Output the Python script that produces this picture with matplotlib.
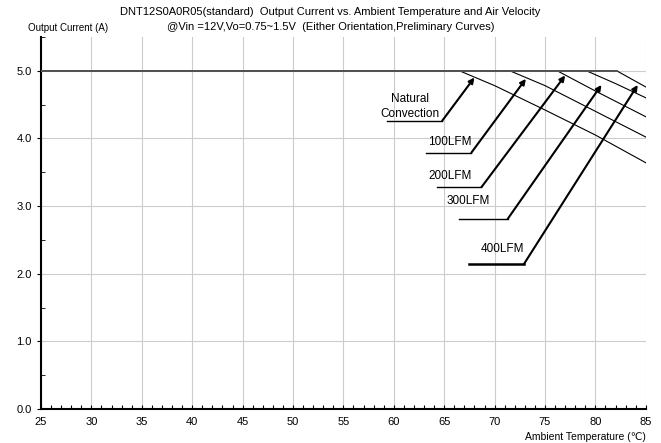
import numpy as np
import matplotlib
matplotlib.use("Agg")
import matplotlib.pyplot as plt
from matplotlib.ticker import MultipleLocator

plt.rcParams['font.family'] = ['Liberation Sans', 'DejaVu Sans']

# derating curves (ambient temp in C, output current in A)
nc_t = [25, 66.5, 70, 75, 80, 85]
nc_i = [5.0, 5.0, 4.78, 4.42, 4.05, 3.64]
lfm100_t = [25, 71.5, 75, 80, 85]
lfm100_i = [5.0, 5.0, 4.78, 4.40, 4.02]
lfm200_t = [25, 76.2, 80, 85]
lfm200_i = [5.0, 5.0, 4.70, 4.32]
lfm300_t = [25, 79.1, 82, 85]
lfm300_i = [5.0, 5.0, 4.81, 4.60]
lfm400_t = [25, 82.1, 85]
lfm400_i = [5.0, 5.0, 4.76]

curves = [(nc_t, nc_i), (lfm100_t, lfm100_i), (lfm200_t, lfm200_i),
          (lfm300_t, lfm300_i), (lfm400_t, lfm400_i)]

# curve labels: text, text pos, leader start/end, arrow tip
labels = ["Natural\nConvection", "100LFM", "200LFM", "300LFM", "400LFM"]
text_xy = [(61.6, 4.47), (65.6, 3.95), (65.6, 3.45), (67.4, 3.08), (70.8, 2.37)]
leader_y = [4.26, 3.79, 3.28, 2.81, 2.14]
leader_x0 = [59.3, 63.2, 64.3, 66.5, 67.5]
leader_x1 = [64.8, 67.7, 68.7, 71.3, 72.9]
tips = [(68.0, 4.90), (73.1, 4.88), (77.0, 4.93), (80.6, 4.79), (84.2, 4.79)]
leader_lw = [1.0, 1.0, 1.0, 1.0, 1.8]

fig = plt.figure(figsize=(6.61, 4.43), dpi=100)
ax = fig.add_axes([0.062, 0.0767, 0.915, 0.84])

for t, i in curves:
    ax.plot(t, i, color='black', lw=0.8, zorder=3)
ax.plot([25, 82.1], [5.0, 5.0], color='#555555', lw=1.4, zorder=4)

for k, lab in enumerate(labels):
    ax.text(text_xy[k][0], text_xy[k][1], lab, ha='center', va='center',
            fontsize=8.5, linespacing=1.25)
    ax.plot([leader_x0[k], leader_x1[k]], [leader_y[k], leader_y[k]],
            color='black', lw=leader_lw[k], zorder=5)
    ax.annotate('', xy=tips[k], xytext=(leader_x1[k], leader_y[k]),
                arrowprops=dict(arrowstyle='-|>', color='black', lw=1.5,
                                mutation_scale=8, shrinkA=0, shrinkB=0), zorder=5)

ax.set_xlim(25, 85)
ax.set_ylim(0, 5.5)
ax.xaxis.set_major_locator(MultipleLocator(5))
ax.xaxis.set_minor_locator(MultipleLocator(1))
ax.yaxis.set_major_locator(MultipleLocator(1))
ax.yaxis.set_minor_locator(MultipleLocator(0.5))
ax.set_yticks([0, 1, 2, 3, 4, 5])
ax.set_yticklabels(['0.0', '1.0', '2.0', '3.0', '4.0', '5.0'])

ax.grid(True, which='major', color='#cccccc', lw=0.8)
ax.set_axisbelow(True)
for s in ['top', 'right']:
    ax.spines[s].set_visible(False)
for s in ['left', 'bottom']:
    ax.spines[s].set_linewidth(1.5)
    ax.spines[s].set_color('black')

ax.tick_params(axis='x', which='both', direction='in', length=3, width=0.8,
               labelsize=8, pad=6)
ax.tick_params(axis='y', which='major', direction='out', length=3, labelsize=8)
ax.tick_params(axis='y', which='minor', direction='in', length=3)

fig.text(0.5, 0.972, "DNT12S0A0R05(standard)  Output Current vs. Ambient Temperature and Air Velocity",
         ha='center', va='center', fontsize=8)
fig.text(0.5, 0.940, "@Vin =12V,Vo=0.75~1.5V  (Either Orientation,Preliminary Curves)",
         ha='center', va='center', fontsize=8)
fig.text(0.042, 0.937, "Output Current (A)", ha='left', va='center', fontsize=7)
fig.text(0.977, 0.013, "Ambient Temperature (\u2103)", ha='right', va='center', fontsize=7.5)

fig.savefig('out.png', dpi=100)
